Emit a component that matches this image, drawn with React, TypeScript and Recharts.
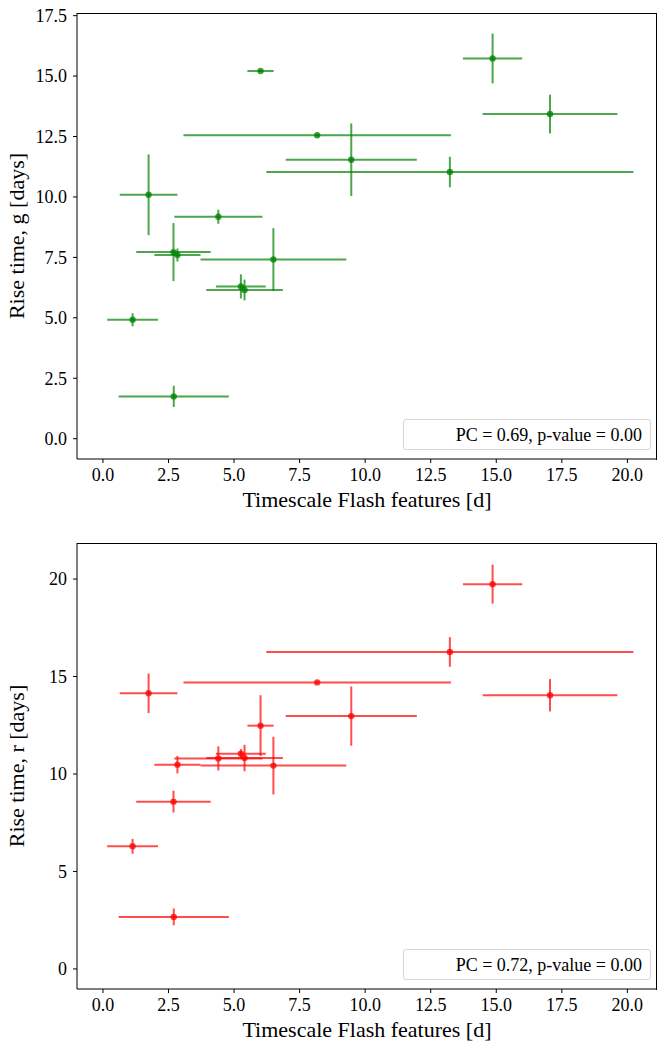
import React from "react";
import { ScatterChart, Scatter, XAxis, YAxis, ErrorBar } from "recharts";

// Flash-feature timescale (x) with its error, shared by both panels
const timescale = [6.01, 8.17, 9.47, 13.23, 1.74, 4.4, 14.86, 17.05, 2.69, 2.84, 6.5, 5.26, 5.4, 1.13, 2.7];
const timescaleErr = [0.5, 5.1, 2.5, 7.0, 1.1, 1.68, 1.13, 2.57, 1.42, 0.88, 2.78, 0.95, 1.46, 0.97, 2.1];

// Rise time in g band
const riseG = [15.21, 12.55, 11.54, 11.03, 10.09, 9.18, 15.73, 13.43, 7.72, 7.6, 7.41, 6.3, 6.15, 4.92, 1.75];
const riseGErr = [0.05, 0.05, 1.5, 0.63, 1.67, 0.29, 1.03, 0.8, 1.2, 0.27, 1.3, 0.5, 0.43, 0.27, 0.44];

// Rise time in r band
const riseR = [12.48, 14.7, 12.97, 16.26, 14.14, 10.8, 19.74, 14.04, 8.58, 10.48, 10.43, 11.04, 10.82, 6.29, 2.67];
const riseRErr = [1.56, 0.05, 1.52, 0.76, 1.01, 0.62, 1.0, 0.83, 0.56, 0.45, 1.48, 0.24, 0.68, 0.38, 0.43];

const xTicks = [0, 2.5, 5, 7.5, 10, 12.5, 15, 17.5, 20];
const gTicks = [0, 2.5, 5, 7.5, 10, 12.5, 15, 17.5];
const rTicks = [0, 5, 10, 15, 20];

const FONT = "'Liberation Serif', 'Times New Roman', serif";

const gData = timescale.map((x, i) => ({ x, xErr: timescaleErr[i], y: riseG[i], yErr: riseGErr[i] }));
const rData = timescale.map((x, i) => ({ x, xErr: timescaleErr[i], y: riseR[i], yErr: riseRErr[i] }));

const tickStyle = { fontFamily: FONT, fontSize: 18, fill: "#000" };

function Panel(props: {
  data: any[];
  color: string;
  yDomain: [number, number];
  yTicks: number[];
  yFmt: (v: number) => string;
  yLabel: string;
  height: number;
  xAxisHeight: number;
}) {
  const { data, color, yDomain, yTicks, yFmt, yLabel, height, xAxisHeight } = props;
  const dot = (p: any) => (
    <circle cx={p.cx} cy={p.cy} r={3.2} fill={color} fillOpacity={0.75} />
  );
  return (
    <ScatterChart width={658} height={height} margin={{ top: 13, right: 1, bottom: 0, left: 0 }}>
      <XAxis
        type="number"
        dataKey="x"
        domain={[-0.99, 21.13]}
        allowDataOverflow
        ticks={xTicks}
        tickFormatter={(v: number) => v.toFixed(1)}
        height={xAxisHeight}
        tick={tickStyle}
        tickSize={4}
        tickMargin={5}
        stroke="#000"
        label={(lp: any) => {
          const vb = lp.viewBox;
          return (
            <text x={vb.x + vb.width / 2} y={vb.y + 48} textAnchor="middle" fontFamily={FONT} fontSize={22} fill="#000">
              Timescale Flash features [d]
            </text>
          );
        }}
      />
      <YAxis
        type="number"
        dataKey="y"
        domain={yDomain}
        allowDataOverflow
        ticks={yTicks}
        tickFormatter={yFmt}
        width={77}
        tick={tickStyle}
        tickSize={4}
        tickMargin={6}
        stroke="#000"
        label={(lp: any) => {
          const vb = lp.viewBox;
          const cx = 24;
          const cy = vb.y + vb.height / 2;
          return (
            <text x={cx} y={cy} transform={`rotate(-90, ${cx}, ${cy})`} textAnchor="middle" fontFamily={FONT} fontSize={22} fill="#000">
              {yLabel}
            </text>
          );
        }}
      />
      <Scatter data={data} shape={dot} isAnimationActive={false}>
        <ErrorBar dataKey="xErr" direction="x" width={0} stroke={color} strokeOpacity={0.7} strokeWidth={2} />
        <ErrorBar dataKey="yErr" direction="y" width={0} stroke={color} strokeOpacity={0.7} strokeWidth={2} />
      </Scatter>
    </ScatterChart>
  );
}

// top and right spines of the axes box
function Frame(props: { top: number; height: number }) {
  return (
    <div
      style={{
        position: "absolute",
        left: 77,
        top: props.top,
        width: 580,
        height: props.height,
        boxSizing: "border-box",
        borderTop: "1px solid #000",
        borderRight: "1px solid #000",
        pointerEvents: "none",
      }}
    />
  );
}

function StatBox(props: { top: number; text: string }) {
  return (
    <div
      style={{
        position: "absolute",
        left: 403,
        top: props.top,
        width: 248,
        height: 31,
        boxSizing: "border-box",
        border: "1px solid #d6d6d6",
        borderRadius: 3,
        background: "rgba(255,255,255,0.8)",
        fontFamily: FONT,
        fontSize: 18,
        textAlign: "right",
        paddingRight: 8,
        lineHeight: "30px",
        color: "#000",
      }}
    >
      {props.text}
    </div>
  );
}

export default function App() {
  return (
    <div style={{ position: "absolute", left: 0, top: 0, width: 658, height: 1044, background: "#fff" }}>
      <div style={{ position: "absolute", left: 0, top: 0 }}>
        <Panel
          data={gData}
          color="#008000"
          yDomain={[-0.84, 17.61]}
          yTicks={gTicks}
          yFmt={(v) => v.toFixed(1)}
          yLabel="Rise time, g [days]"
          height={520}
          xAxisHeight={61}
        />
      </div>
      <Frame top={13} height={447} />
      <StatBox top={419} text="PC = 0.69, p-value = 0.00" />
      <div style={{ position: "absolute", left: 0, top: 530 }}>
        <Panel
          data={rData}
          color="#ff0000"
          yDomain={[-1.03, 21.85]}
          yTicks={rTicks}
          yFmt={(v) => String(v)}
          yLabel="Rise time, r [days]"
          height={514}
          xAxisHeight={55}
        />
      </div>
      <Frame top={543} height={447} />
      <StatBox top={949} text="PC = 0.72, p-value = 0.00" />
    </div>
  );
}
